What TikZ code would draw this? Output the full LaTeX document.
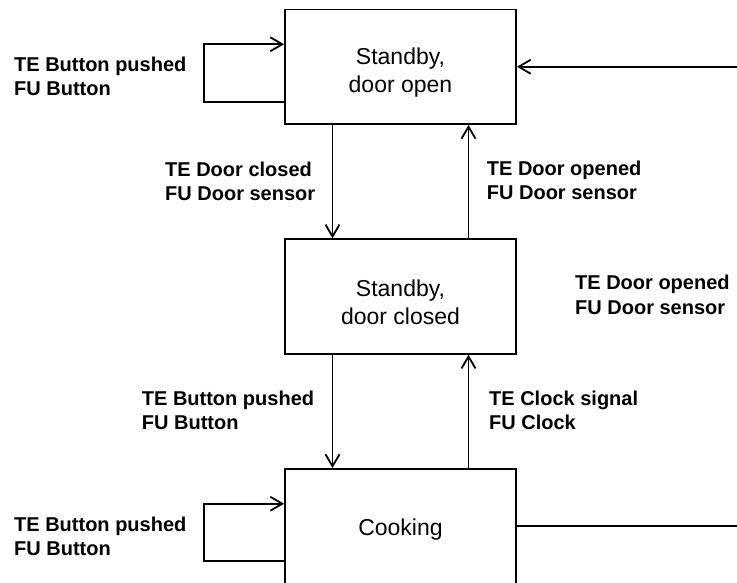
\documentclass[tikz,border=0pt]{standalone}
\usepackage{fontspec}
\setmainfont{Liberation Sans}
\usetikzlibrary{arrows.meta}

\tikzset{
  state/.style={draw, line width=1.8pt, minimum width=231pt, minimum height=114.5pt,
    inner sep=0pt},
  statetext/.style={inner sep=0pt, align=center, font=\fontsize{23}{28.5}\selectfont},
  lbl/.style={inner sep=0pt, anchor=north west, align=left,
    font=\bfseries\fontsize{20}{24.5}\selectfont},
  wire/.style={line width=1.8pt},
  arr/.style={wire, -{Straight Barb[length=12pt,width=14pt]}}
}

\begin{document}
\begin{tikzpicture}[x=1pt, y=-1pt]
  \useasboundingbox (0,0) rectangle (737,583);
  \clip (0,0) rectangle (737,582.4);

  % states
  \node[state] (open)   at (400.5, 66.75)  {};
  \node[state] (closed) at (400.5, 296.5)  {};
  \node[state] (cook)   at (400.5, 526.25) {};
  \node[statetext] (openT)   at ([yshift=-6pt]open.center)   {Standby,\\door open};
  \node[statetext] (closedT) at ([yshift=-6pt]closed.center) {Standby,\\door closed};
  \node[statetext] (cookT)   at ([yshift=-3pt]cook.center)   {Cooking};

  % loose ends at the right border
  \coordinate (inR)  at (742, 66.75);
  \coordinate (outR) at (742, 526.25);

  % self loops on the left
  \draw[arr] ([yshift=-35pt]open.west) -- ++(-80,0) |- ([yshift=22.5pt]open.west);
  \draw[arr] ([yshift=-35pt]cook.west) -- ++(-80,0) |- ([yshift=22.5pt]cook.west);

  % vertical transitions
  \draw[arr] ([xshift=-68pt]open.south)   -- ([xshift=-68pt]closed.north);
  \draw[arr] ([xshift=68pt]closed.north)  -- ([xshift=68pt]open.south);
  \draw[arr] ([xshift=-68pt]closed.south) -- ([xshift=-68pt]cook.north);
  \draw[arr] ([xshift=68pt]cook.north)    -- ([xshift=68pt]closed.south);

  % transitions leaving the right border
  \draw[arr]  (inR) -- (open.east);
  \draw[wire] (cook.east) -- (outR);

  % transition labels
  \node[lbl] (l1) at (14, 56.7)    {TE Button pushed\\FU Button};
  \node[lbl] (l2) at (165, 161.7)  {TE Door closed\\FU Door sensor};
  \node[lbl] (l3) at (486.7, 160.7){TE Door opened\\FU Door sensor};
  \node[lbl] (l4) at (575, 275)    {TE Door opened\\FU Door sensor};
  \node[lbl] (l5) at (141.7, 390.7){TE Button pushed\\FU Button};
  \node[lbl] (l6) at (489, 390.7)  {TE Clock signal\\FU Clock};
  \node[lbl] (l7) at (14, 516.5)   {TE Button pushed\\FU Button};
\end{tikzpicture}
\end{document}
